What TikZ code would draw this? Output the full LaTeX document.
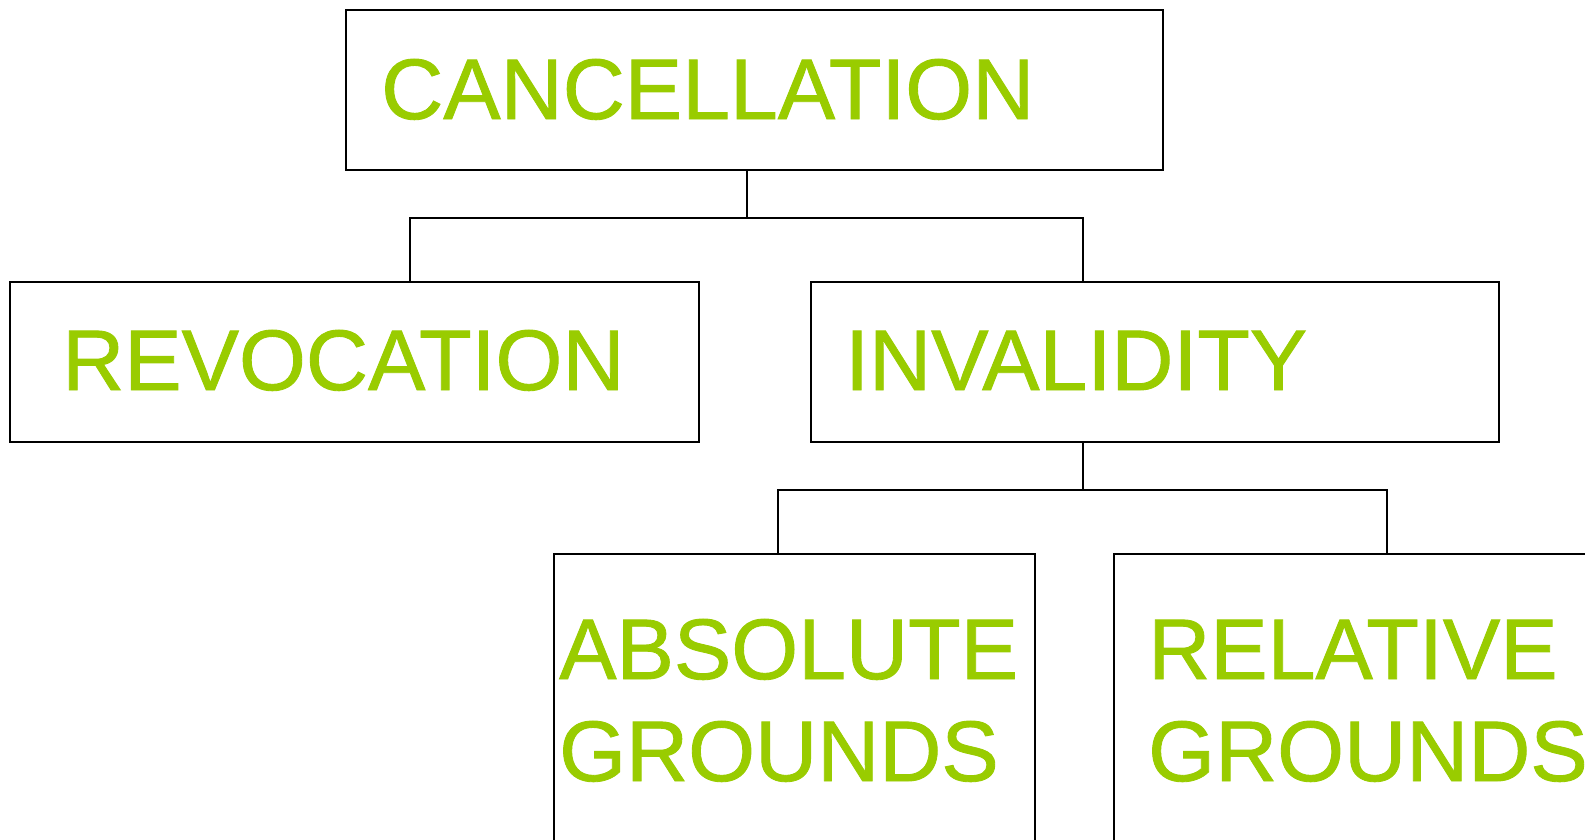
\documentclass[tikz,border=0pt]{standalone}
\usepackage{fontspec}
\setmainfont{Liberation Sans}[FakeBold=1]
\definecolor{labelgreen}{HTML}{99CC00}
\tikzset{
  box/.style={draw=black, line width=2pt, rectangle, inner sep=0pt, fill=white},
  lbl/.style={text=labelgreen, inner sep=0pt, anchor=base west, font=\fontsize{86}{102}\selectfont},
  conn/.style={draw=black, line width=2pt}
}
\begin{document}
\begin{tikzpicture}[x=1pt,y=-1pt]
\clip (0,0) rectangle (1585,839);
\fill[white] (0,0) rectangle (1585,839);
% boxes
\node[box, minimum width=817pt, minimum height=160pt] (canc) at (754.5,90) {};
\node[box, minimum width=689pt, minimum height=160pt] (revo) at (354.5,362) {};
\node[box, minimum width=688pt, minimum height=160pt] (inv) at (1155,362) {};
\node[box, minimum width=481pt, minimum height=360pt] (abs) at (794.5,734) {};
\node[box, minimum width=600pt, minimum height=360pt] (rel) at (1414,734) {};
% labels
\node[lbl] (tcanc) at (381,119) {CANCELLATION};
\node[lbl] (trevo) at (62,390) {REVOCATION};
\node[lbl] (tinv) at (845,390) {INVALIDITY};
\node[lbl] (tabs1) at (559,679) {ABSOLUTE};
\node[lbl] (tabs2) at (559,781) {GROUNDS};
\node[lbl] (trel1) at (1148,679) {RELATIVE};
\node[lbl] (trel2) at (1148,781) {GROUNDS};
% junction coordinates
\coordinate (j1) at (747,218);
\coordinate (jL) at (410,218);
\coordinate (jR) at (1083,218);
\coordinate (k1) at (1083,490);
\coordinate (kL) at (778,490);
\coordinate (kR) at (1387,490);
% connectors
\draw[conn] (canc.south -| j1) -- (j1);
\draw[conn] (revo.north -| jL) -- (jL) -- (jR) -- (inv.north -| jR);
\draw[conn] (inv.south -| k1) -- (k1);
\draw[conn] (abs.north -| kL) -- (kL) -- (kR) -- (rel.north -| kR);
\end{tikzpicture}
\end{document}
